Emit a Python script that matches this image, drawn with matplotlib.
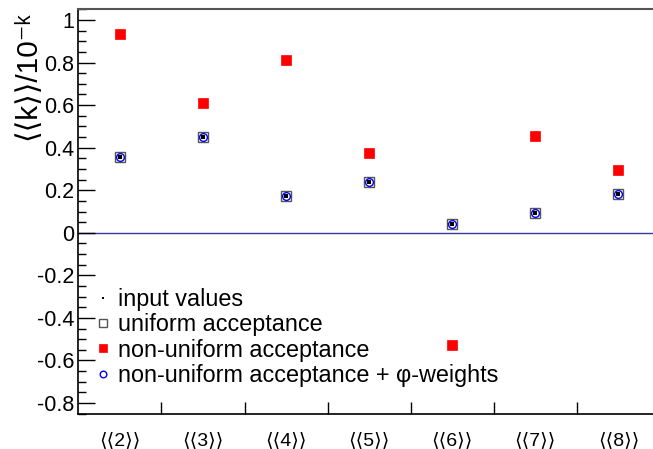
import matplotlib
matplotlib.use("Agg")
import matplotlib.pyplot as plt
from matplotlib.ticker import MultipleLocator, FixedLocator, FixedFormatter

plt.rcParams['font.family'] = ['Liberation Sans', 'DejaVu Sans']

categories = ['2', '3', '4', '5', '6', '7', '8']
input_values = [0.358, 0.452, 0.174, 0.240, 0.042, 0.094, 0.184]
uniform_acc = [0.358, 0.452, 0.174, 0.240, 0.042, 0.094, 0.184]
nonuniform_acc = [0.936, 0.612, 0.810, 0.376, -0.527, 0.456, 0.296]
nonuniform_phiw = [0.358, 0.452, 0.174, 0.240, 0.042, 0.094, 0.184]

W, H = 653, 449
fig = plt.figure(figsize=(W / 100, H / 100), dpi=100)
left, right, top, bottom = 78.3, 660.0, 9.3, 413.7
ax = fig.add_axes([left / W, 1 - bottom / H, (right - left) / W, (bottom - top) / H])

x = [i + 0.5 for i in range(len(categories))]

ax.axhline(0, color='#3a3aa0', lw=1.0, zorder=1)

ax.plot(x, uniform_acc, ls='none', marker='s', ms=7.6, mfc='none', mec='#555555',
        mew=1.0, label='uniform acceptance', zorder=3)
ax.plot(x, nonuniform_acc, ls='none', marker='s', ms=7.0, mfc='#ff0000', mec='#ff0000',
        mew=0.5, label='non-uniform acceptance', zorder=3)
ax.plot(x, nonuniform_phiw, ls='none', marker='o', ms=5.6, mfc='none', mec='#0000ee',
        mew=1.0, label='non-uniform acceptance + φ-weights', zorder=4)
ax.plot(x, input_values, ls='none', marker='s', ms=2.2, mfc='black', mec='black',
        mew=0, label='input values', zorder=5)

ax.set_xlim(0, 7)
ax.set_ylim(-0.85, 1.05)

ax.xaxis.set_major_locator(FixedLocator([1, 2, 3, 4, 5, 6, 7]))
ax.xaxis.set_major_formatter(FixedFormatter([]))
ax.xaxis.set_minor_locator(FixedLocator(x))
ax.xaxis.set_minor_formatter(FixedFormatter(['\u27e8\u27e8' + c + '\u27e9\u27e9' for c in categories]))
ax.tick_params(axis='x', which='major', direction='in', length=9, width=1.0, top=False)
ax.tick_params(axis='x', which='minor', length=0, pad=13, labelsize=14)

ax.yaxis.set_major_locator(MultipleLocator(0.2))
ax.yaxis.set_minor_locator(MultipleLocator(0.05))
ax.yaxis.set_major_formatter(matplotlib.ticker.FuncFormatter(
    lambda v, p: ('%g' % round(v, 2)) if abs(v) > 1e-9 else '0'))
ax.tick_params(axis='y', which='major', direction='in', length=12, width=1.0,
               labelsize=15.5, pad=3, right=False)
ax.tick_params(axis='y', which='minor', direction='in', length=6, width=1.0, right=False)

ax.spines['top'].set_color('#555555')
ax.spines['top'].set_linewidth(1.5)
ax.spines['left'].set_linewidth(1.2)
ax.spines['bottom'].set_linewidth(1.2)
ax.spines['right'].set_visible(False)

ax.set_ylabel('\u27e8\u27e8k\u27e9\u27e9/10\u207b\u1d4f', fontsize=21.5, loc='top')
ax.yaxis.set_label_coords(-0.064, 0.995)

handles, labels = ax.get_legend_handles_labels()
order = [3, 0, 1, 2]
leg = ax.legend([handles[i] for i in order], [labels[i] for i in order],
                loc='upper left', bbox_to_anchor=((96 - left) / (right - left), (bottom - 288) / (bottom - top)),
                frameon=False, fontsize=16.8, handlelength=0.6, handletextpad=0.35,
                labelspacing=0.1, borderpad=0, borderaxespad=0, markerscale=0.85)

fig.savefig('out.png', dpi=100)
